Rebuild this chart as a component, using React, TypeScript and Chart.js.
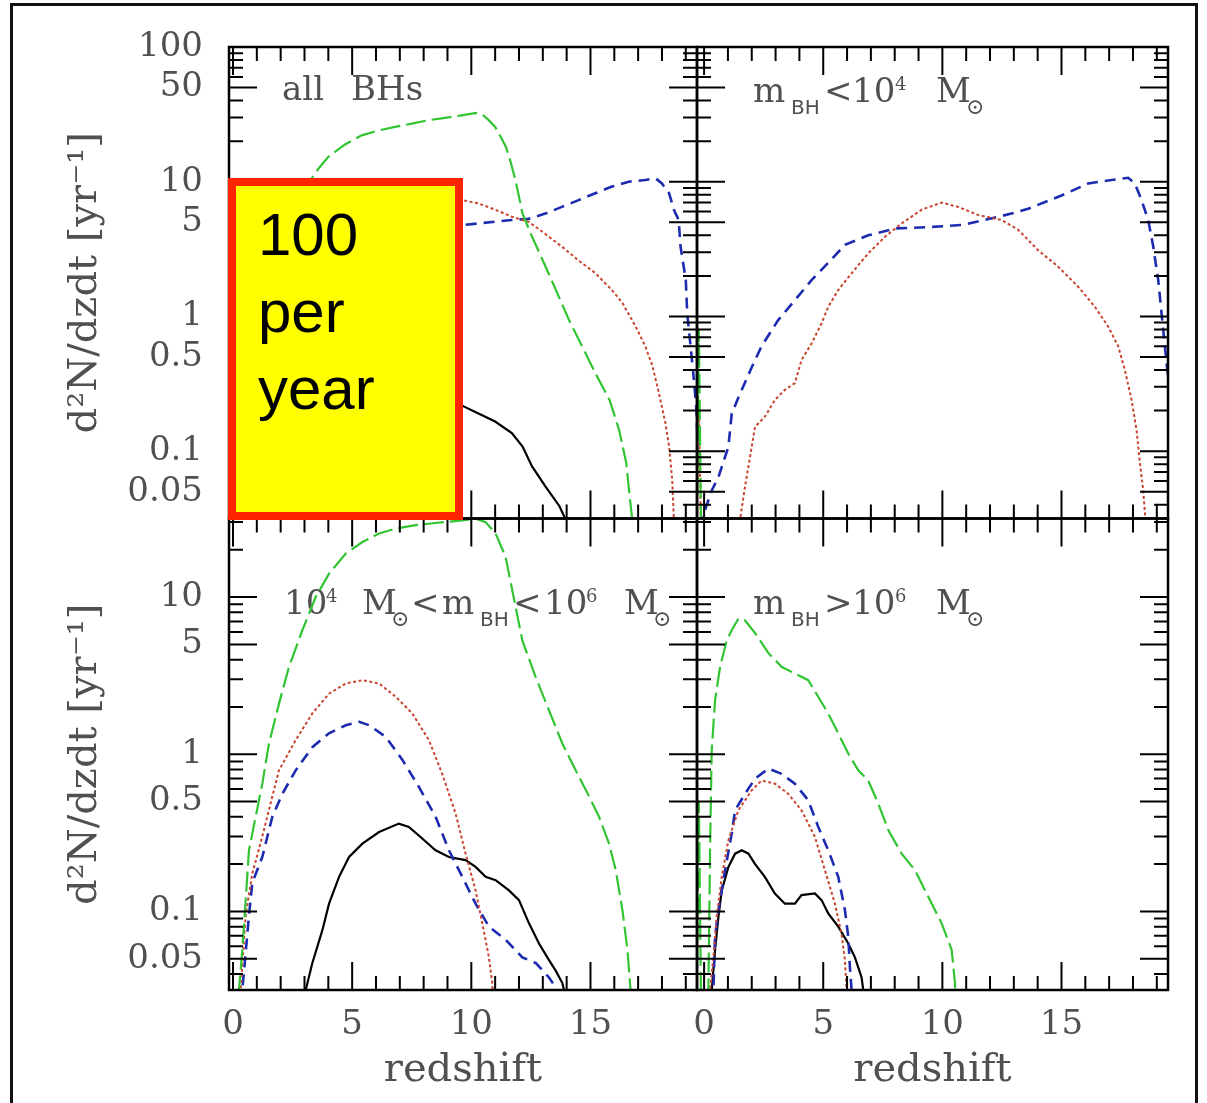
import React, { useEffect, useRef } from 'react';
import { Chart, registerables } from 'chart.js';

Chart.register(...registerables);

type Pt = [number, number];

// Merger rates d2N/dzdt [1/yr] versus redshift, pairs of [z, rate]

// all black holes
const allBHsGreen: Pt[] = [
  [0.15, 0.02], [0.3, 0.1], [0.5, 0.35], [0.8, 1.0], [1.2, 2.0], [1.8, 3.8], [2.4, 6.0], [3.0, 8.8],
  [3.3, 10.6], [3.6, 12.6], [4.0, 15.3], [4.7, 18.9], [5.4, 22.1], [6.1, 24.0], [6.8, 25.5], [7.5, 27.0],
  [8.2, 28.6], [8.9, 29.8], [9.6, 31.1], [10.2, 32.4], [10.46, 31.5], [10.7, 29.0], [11.0, 25.5],
  [11.2, 22.0], [11.45, 18.2], [11.65, 14.0], [11.85, 10.3], [12.15, 5.8], [12.55, 3.9], [13.0, 2.6],
  [13.55, 1.57], [14.1, 0.94], [14.65, 0.6], [15.2, 0.38], [15.8, 0.24], [16.2, 0.144], [16.5, 0.082],
  [16.62, 0.051], [16.75, 0.031], [16.8, 0.02],
];
const allBHsRed: Pt[] = [
  [0.25, 0.02], [0.5, 0.1], [1.0, 0.5], [2.0, 1.3], [3.0, 2.2], [4.0, 3.2], [5.0, 4.3], [6.0, 5.0],
  [7.0, 5.8], [8.0, 6.5], [9.0, 7.1], [9.62, 7.3], [10.3, 6.9], [11.0, 6.2], [11.7, 5.5], [12.4, 5.05],
  [13.1, 4.1], [13.8, 3.3], [14.5, 2.6], [15.2, 2.1], [15.9, 1.57], [16.35, 1.25], [16.9, 0.84],
  [17.3, 0.6], [17.6, 0.43], [17.87, 0.27], [18.15, 0.16], [18.3, 0.108], [18.43, 0.061], [18.5, 0.031],
  [18.55, 0.02],
];
const allBHsBlue: Pt[] = [
  [0.2, 0.02], [0.4, 0.05], [1.0, 0.35], [2.0, 0.9], [3.0, 1.6], [4.0, 2.4], [5.0, 3.2], [6.0, 3.9],
  [7.0, 4.3], [8.0, 4.5], [9.0, 4.6], [9.62, 4.76], [10.3, 4.9], [11.0, 5.05], [11.7, 5.2], [12.4, 5.3],
  [13.1, 5.8], [13.8, 6.5], [14.5, 7.3], [15.2, 8.2], [15.9, 9.2], [16.6, 10.0], [17.3, 10.3],
  [17.73, 10.6], [18.0, 9.7], [18.3, 8.2], [18.5, 6.2], [18.7, 5.2], [18.78, 3.3], [19.0, 1.86],
  [19.06, 1.05], [19.2, 0.6], [19.34, 0.34], [19.45, 0.2], [19.5, 0.1],
];
const allBHsBlack: Pt[] = [
  [0.3, 0.02], [0.5, 0.06], [1.0, 0.15], [1.5, 0.22], [2.0, 0.2], [3.0, 0.17], [4.0, 0.21], [5.0, 0.28],
  [6.0, 0.33], [7.0, 0.36], [8.0, 0.32], [9.0, 0.25], [9.7, 0.214], [10.3, 0.19], [11.0, 0.166],
  [11.7, 0.136], [12.15, 0.108], [12.55, 0.077], [13.1, 0.055], [13.7, 0.039], [13.96, 0.031], [14.0, 0.02],
];

// m_BH < 1e4 Msun
const lightGreen: Pt[] = [[-0.32, 0.02], [-0.22, 0.8], [-0.12, 0.02]];
const lightRed: Pt[] = [
  [-0.32, 0.02], [-0.22, 0.22], [-0.12, 0.02], [1.45, 0.02], [1.51, 0.031], [1.72, 0.055], [2.0, 0.108],
  [2.14, 0.152], [2.55, 0.18], [2.97, 0.24], [3.39, 0.285], [3.81, 0.32], [4.09, 0.475], [4.51, 0.63],
  [4.93, 0.89], [5.21, 1.18], [5.63, 1.57], [6.19, 2.09], [6.89, 2.94], [7.59, 3.9], [8.29, 4.9],
  [9.13, 6.2], [9.97, 7.0], [10.67, 6.5], [11.51, 5.65], [12.48, 5.2], [13.18, 4.4], [14.02, 3.1],
  [14.86, 2.34], [15.7, 1.66], [16.4, 1.18], [16.96, 0.84], [17.38, 0.6], [17.66, 0.4], [17.94, 0.24],
  [18.15, 0.144], [18.29, 0.082], [18.43, 0.051], [18.5, 0.035], [18.55, 0.02],
];
const lightBlue: Pt[] = [
  [-0.15, 0.02], [-0.1, 0.031], [0.32, 0.051], [0.6, 0.064], [1.02, 0.108], [1.16, 0.19], [1.44, 0.25],
  [2.0, 0.42], [2.41, 0.6], [3.11, 0.94], [3.81, 1.32], [4.51, 1.86], [5.21, 2.5], [5.91, 3.4],
  [6.89, 4.0], [8.01, 4.5], [9.41, 4.6], [10.81, 4.77], [11.79, 5.2], [12.9, 5.8], [13.6, 6.3],
  [15.0, 7.9], [16.12, 9.7], [17.1, 10.3], [17.8, 10.7], [18.08, 9.7], [18.36, 7.3], [18.64, 5.2],
  [18.85, 3.3], [19.06, 1.86], [19.2, 1.05], [19.34, 0.6], [19.48, 0.34], [19.6, 0.2],
];

// 1e4 Msun < m_BH < 1e6 Msun
const midGreen: Pt[] = [
  [0.2, 0.02], [0.25, 0.0316], [0.39, 0.057], [0.53, 0.117], [0.67, 0.245], [0.95, 0.4], [1.23, 0.65],
  [1.51, 1.17], [1.93, 2.1], [2.35, 3.6], [2.91, 6.15], [3.47, 10], [4.03, 14.1], [4.73, 18.9],
  [5.43, 22.4], [6.13, 25.4], [6.83, 27.3], [7.66, 28.7], [8.5, 29.6], [9.62, 30.8], [10.18, 31.5],
  [10.6, 30], [11.02, 25.4], [11.44, 18], [11.72, 11], [12.14, 5.3], [12.7, 3.1], [13.26, 1.9],
  [13.82, 1.17], [14.38, 0.79], [14.94, 0.54], [15.36, 0.4], [15.78, 0.27], [16.06, 0.183],
  [16.34, 0.102], [16.55, 0.057], [16.68, 0.0316], [16.72, 0.02],
];
const midRed: Pt[] = [
  [0.28, 0.02], [0.32, 0.0316], [0.53, 0.094], [0.81, 0.174], [1.23, 0.3], [1.65, 0.54], [1.93, 0.79],
  [2.63, 1.23], [3.33, 1.82], [4.03, 2.43], [4.73, 2.82], [5.43, 2.96], [6.13, 2.82], [6.83, 2.32],
  [7.52, 1.82], [8.22, 1.23], [8.78, 0.75], [9.34, 0.42], [9.76, 0.233], [10.18, 0.136], [10.46, 0.084],
  [10.74, 0.051], [10.88, 0.035], [10.95, 0.02],
];
const midBlue: Pt[] = [
  [0.35, 0.02], [0.39, 0.0316], [0.67, 0.094], [0.81, 0.152], [1.23, 0.222], [1.65, 0.4], [2.07, 0.56],
  [2.63, 0.79], [3.33, 1.11], [4.03, 1.36], [4.73, 1.53], [5.29, 1.61], [5.71, 1.53], [6.41, 1.29],
  [7.11, 0.92], [7.8, 0.62], [8.5, 0.4], [9.06, 0.245], [9.62, 0.166], [10.18, 0.112], [10.74, 0.08],
  [11.44, 0.066], [12.14, 0.051], [12.7, 0.047], [13.26, 0.038], [13.61, 0.0316], [13.7, 0.02],
];
const midBlack: Pt[] = [
  [3.0, 0.02], [3.05, 0.0316], [3.33, 0.047], [3.75, 0.076], [4.03, 0.112], [4.45, 0.166], [4.87, 0.222],
  [5.43, 0.27], [6.13, 0.32], [6.96, 0.362], [7.38, 0.345], [7.94, 0.291], [8.5, 0.245], [9.06, 0.222],
  [9.76, 0.212], [10.18, 0.192], [10.6, 0.166], [11.02, 0.158], [11.58, 0.136], [12.0, 0.118],
  [12.42, 0.084], [12.84, 0.0625], [13.26, 0.049], [13.54, 0.042], [13.82, 0.035], [13.89, 0.0316],
  [13.95, 0.02],
];

// m_BH > 1e6 Msun
const heavyGreen: Pt[] = [
  [-0.32, 0.02], [-0.22, 0.5], [-0.12, 0.02], [0.12, 0.02], [0.18, 0.0316], [0.25, 0.245], [0.32, 1.06],
  [0.46, 2.2], [0.67, 3.6], [0.95, 5.3], [1.16, 6.15], [1.44, 7.3], [1.72, 7.1], [2.14, 5.9], [2.7, 4.4],
  [3.25, 3.6], [3.81, 3.26], [4.37, 2.96], [4.79, 2.32], [5.21, 1.82], [5.63, 1.36], [6.05, 1.01],
  [6.47, 0.79], [6.89, 0.68], [7.31, 0.485], [7.73, 0.33], [8.29, 0.233], [8.85, 0.183], [9.41, 0.124],
  [9.97, 0.084], [10.39, 0.057], [10.53, 0.035], [10.58, 0.02],
];
const heavyRed: Pt[] = [
  [0.2, 0.02], [0.25, 0.0316], [0.39, 0.051], [0.53, 0.092], [0.74, 0.166], [1.02, 0.284], [1.44, 0.44],
  [2.0, 0.59], [2.41, 0.68], [2.97, 0.65], [3.53, 0.56], [4.09, 0.44], [4.65, 0.298], [5.07, 0.183],
  [5.49, 0.112], [5.77, 0.072], [5.91, 0.049], [5.98, 0.0316], [6.0, 0.02],
];
const heavyBlue: Pt[] = [
  [0.33, 0.02], [0.39, 0.0316], [0.46, 0.069], [0.6, 0.102], [0.88, 0.183], [1.16, 0.313], [1.3, 0.44],
  [1.72, 0.56], [2.14, 0.7], [2.7, 0.81], [3.25, 0.75], [3.81, 0.65], [4.37, 0.51], [4.79, 0.345],
  [5.21, 0.245], [5.63, 0.166], [5.91, 0.102], [6.05, 0.069], [6.12, 0.044], [6.19, 0.0316], [6.22, 0.02],
];
const heavyBlack: Pt[] = [
  [0.28, 0.02], [0.32, 0.0316], [0.46, 0.057], [0.6, 0.092], [0.74, 0.136], [1.02, 0.192], [1.3, 0.233],
  [1.58, 0.245], [1.86, 0.233], [2.14, 0.2], [2.55, 0.166], [2.97, 0.13], [3.39, 0.112], [3.81, 0.112],
  [4.09, 0.127], [4.65, 0.13], [4.93, 0.118], [5.21, 0.097], [5.63, 0.08], [6.05, 0.0625], [6.33, 0.051],
  [6.61, 0.038], [6.68, 0.0316], [6.72, 0.02],
];

// Axis ticks
const xTickValues = [0, 5, 10, 15];
const yTickValuesTop = [100, 50, 10, 5, 1, 0.5, 0.1, 0.05];
const yTickValuesBottom = [10, 5, 1, 0.5, 0.1, 0.05];
const Y_MIN = Math.pow(10, -1.5);
const Y_MAX_TOP = 100;
const Y_MAX_BOTTOM = Math.pow(10, 1.5);

const SERIF = '"DejaVu Serif", serif';
const SANS = '"DejaVu Sans", sans-serif';
const TEXT = '#505050';
const MAJOR_TICK = 28;
const MINOR_TICK = 14;

// green long-dash, red dotted, blue dashed, black solid
const lineStyles = [
  { color: '#33c433', dash: [20, 6], width: 2.2 },
  { color: '#c8452f', dash: [3, 2.5], width: 2 },
  { color: '#1c2bb0', dash: [11, 7], width: 2.6 },
  { color: '#000000', dash: [] as number[], width: 2.2 },
];

type Run = { text: string; x: number; size: number; font?: string; dy?: number };

const labelAll: Run[] = [
  { text: 'all', x: 0, size: 34 },
  { text: 'BHs', x: 69, size: 34 },
];
const labelLight: Run[] = [
  { text: 'm', x: 0, size: 34 },
  { text: 'BH', x: 38, size: 20, font: SANS, dy: 12 },
  { text: '<', x: 71, size: 34 },
  { text: '10', x: 99, size: 34 },
  { text: '4', x: 142, size: 18, dy: -12 },
  { text: 'M', x: 183, size: 34 },
  { text: '⊙', x: 213, size: 22, dy: 12 },
];
const labelMid: Run[] = [
  { text: '10', x: 0, size: 34 },
  { text: '4', x: 42, size: 18, dy: -12 },
  { text: 'M', x: 78, size: 34 },
  { text: '⊙', x: 107, size: 22, dy: 12 },
  { text: '<', x: 127, size: 34 },
  { text: 'm', x: 158, size: 34 },
  { text: 'BH', x: 196, size: 20, font: SANS, dy: 12 },
  { text: '<', x: 229, size: 34 },
  { text: '10', x: 260, size: 34 },
  { text: '6', x: 302, size: 18, dy: -12 },
  { text: 'M', x: 340, size: 34 },
  { text: '⊙', x: 369, size: 22, dy: 12 },
];
const labelHeavy: Run[] = [
  { text: 'm', x: 0, size: 34 },
  { text: 'BH', x: 38, size: 20, font: SANS, dy: 12 },
  { text: '>', x: 71, size: 34 },
  { text: '10', x: 99, size: 34 },
  { text: '6', x: 142, size: 18, dy: -12 },
  { text: 'M', x: 183, size: 34 },
  { text: '⊙', x: 213, size: 22, dy: 12 },
];

type Panel = {
  xAxisID: string;
  yAxisID: string;
  label: Run[];
  anchor: [number, number];
  series: (Pt[] | null)[];
};

const panels: Panel[] = [
  { xAxisID: 'xLeft', yAxisID: 'yTop', label: labelAll, anchor: [53, 53], series: [allBHsGreen, allBHsRed, allBHsBlue, allBHsBlack] },
  { xAxisID: 'xRight', yAxisID: 'yTop', label: labelLight, anchor: [56, 55], series: [lightGreen, lightRed, lightBlue, null] },
  { xAxisID: 'xLeft', yAxisID: 'yBottom', label: labelMid, anchor: [55, 95.5], series: [midGreen, midRed, midBlue, midBlack] },
  { xAxisID: 'xRight', yAxisID: 'yBottom', label: labelHeavy, anchor: [56, 95.5], series: [heavyGreen, heavyRed, heavyBlue, heavyBlack] },
];

// keep each curve inside its own panel
const panelClip = {
  id: 'panelClip',
  beforeDatasetDraw(chart: any, args: any) {
    const { xScale, yScale } = args.meta;
    const ctx = chart.ctx;
    ctx.save();
    ctx.beginPath();
    ctx.rect(xScale.left, yScale.top, xScale.right - xScale.left, yScale.bottom - yScale.top);
    ctx.clip();
  },
  afterDatasetDraw(chart: any) {
    chart.ctx.restore();
  },
};

// panel captions
const panelLabels = {
  id: 'panelLabels',
  beforeDatasetsDraw(chart: any) {
    const ctx = chart.ctx;
    ctx.save();
    ctx.fillStyle = TEXT;
    ctx.textAlign = 'left';
    ctx.textBaseline = 'alphabetic';
    for (const p of panels) {
      const xs = chart.scales[p.xAxisID];
      const ys = chart.scales[p.yAxisID];
      const x0 = xs.left + p.anchor[0];
      const y0 = ys.top + p.anchor[1];
      for (const r of p.label) {
        ctx.font = `${r.size}px ${r.font || SERIF}`;
        ctx.fillText(r.text, x0 + r.x, y0 + (r.dy || 0));
      }
    }
    ctx.restore();
  },
};

// boxes with inward ticks on all four sides of every panel
const panelFrames = {
  id: 'panelFrames',
  afterDatasetsDraw(chart: any) {
    const ctx = chart.ctx;
    ctx.save();
    ctx.strokeStyle = '#000';
    ctx.setLineDash([]);
    for (const p of panels) {
      const xs = chart.scales[p.xAxisID];
      const ys = chart.scales[p.yAxisID];
      const L = xs.left, R = xs.right, T = ys.top, B = ys.bottom;
      ctx.lineWidth = 2;
      ctx.beginPath();
      for (let z = Math.ceil(xs.min); z <= Math.floor(xs.max); z++) {
        const px = xs.getPixelForValue(z);
        const len = z % 5 === 0 ? MAJOR_TICK : MINOR_TICK;
        ctx.moveTo(px, B); ctx.lineTo(px, B - len);
        ctx.moveTo(px, T); ctx.lineTo(px, T + len);
      }
      for (let k = -2; k <= 2; k++) {
        for (let m = 1; m <= 9; m++) {
          const v = m * Math.pow(10, k);
          if (v < ys.min || v > ys.max * 1.0001) continue;
          const py = ys.getPixelForValue(v);
          const len = m === 1 || m === 5 ? MAJOR_TICK : MINOR_TICK;
          ctx.moveTo(L, py); ctx.lineTo(L + len, py);
          ctx.moveTo(R, py); ctx.lineTo(R - len, py);
        }
      }
      ctx.stroke();
      ctx.lineWidth = 2.5;
      ctx.strokeRect(L, T, R - L, B - T);
    }
    ctx.restore();
  },
};

const tickFont = { family: SERIF, size: 34 };
const titleFont = { family: SERIF, size: 40 };

function xAxis(min: number, weight: number, stackWeight: number) {
  return {
    type: 'linear' as const,
    axis: 'x' as const,
    position: 'bottom' as const,
    stack: 'redshift',
    stackWeight,
    weight,
    min,
    max: 19.47,
    grid: { display: false, drawTicks: false },
    border: { display: false },
    afterBuildTicks: (s: any) => { s.ticks = xTickValues.map((value) => ({ value })); },
    afterFit: (s: any) => { s.height = 113; },
    ticks: {
      autoSkip: false, maxRotation: 0, minRotation: 0, padding: 15,
      font: tickFont, color: TEXT, callback: (v: any) => String(v),
    },
    title: { display: true, text: 'redshift', font: titleFont, color: TEXT, padding: { top: 0, bottom: 8 } },
  };
}

function yAxis(max: number, weight: number, values: number[]) {
  return {
    type: 'logarithmic' as const,
    axis: 'y' as const,
    position: 'left' as const,
    stack: 'rate',
    stackWeight: 1,
    weight,
    min: Y_MIN,
    max,
    grid: { display: false, drawTicks: false },
    border: { display: false },
    afterBuildTicks: (s: any) => { s.ticks = values.map((value) => ({ value })); },
    afterFit: (s: any) => { s.width = 229; },
    ticks: {
      autoSkip: false, padding: 26, font: tickFont, color: TEXT,
      callback: (v: any) => String(v),
    },
    title: { display: true, text: 'd²N/dzdt [yr⁻¹]', font: titleFont, color: TEXT, padding: { top: 62, bottom: 0 } },
  };
}

export default function App() {
  const canvasRef = useRef<HTMLCanvasElement | null>(null);

  useEffect(() => {
    document.body.style.margin = '0';
    const canvas = canvasRef.current;
    if (!canvas) return;

    const datasets: any[] = [];
    panels.forEach((p) => {
      p.series.forEach((pts, i) => {
        if (!pts) return;
        const st = lineStyles[i];
        datasets.push({
          data: pts.map(([x, y]) => ({ x, y })),
          xAxisID: p.xAxisID,
          yAxisID: p.yAxisID,
          borderColor: st.color,
          borderWidth: st.width,
          borderDash: st.dash,
          pointRadius: 0,
          fill: false,
          tension: 0,
        });
      });
    });

    const chart = new Chart(canvas, {
      type: 'line',
      data: { datasets },
      options: {
        responsive: false,
        maintainAspectRatio: false,
        animation: false,
        devicePixelRatio: 1,
        events: [],
        layout: { padding: { left: 0, right: 39, top: 47, bottom: 0 } },
        plugins: { legend: { display: false }, tooltip: { enabled: false } },
        scales: {
          xLeft: xAxis(-0.168, 0, 468),
          xRight: xAxis(-0.298, 1, 471),
          yTop: yAxis(Y_MAX_TOP, 1, yTickValuesTop),
          yBottom: yAxis(Y_MAX_BOTTOM, 0, yTickValuesBottom),
        } as any,
      },
      plugins: [panelClip, panelLabels, panelFrames],
    });
    return () => chart.destroy();
  }, []);

  return (
    <div style={{ position: 'absolute', left: 0, top: 0, width: 1207, height: 1103, overflow: 'hidden', background: '#ffffff' }}>
      <div style={{ position: 'absolute', left: 10, top: 3, width: 1188, height: 1130, boxSizing: 'border-box', border: '3px solid #111' }} />
      <canvas ref={canvasRef} width={1207} height={1103} style={{ position: 'absolute', left: 0, top: 0 }} />
      <div
        style={{
          position: 'absolute', left: 228, top: 178, width: 235, height: 342, boxSizing: 'border-box',
          border: '8px solid #ff2400', background: '#ffff00',
        }}
      >
        <div
          style={{
            position: 'absolute', left: 22, top: 10, font: '60px "Liberation Sans", Arial, sans-serif',
            lineHeight: '77px', color: '#000',
          }}
        >
          100<br />per<br />year
        </div>
      </div>
    </div>
  );
}
